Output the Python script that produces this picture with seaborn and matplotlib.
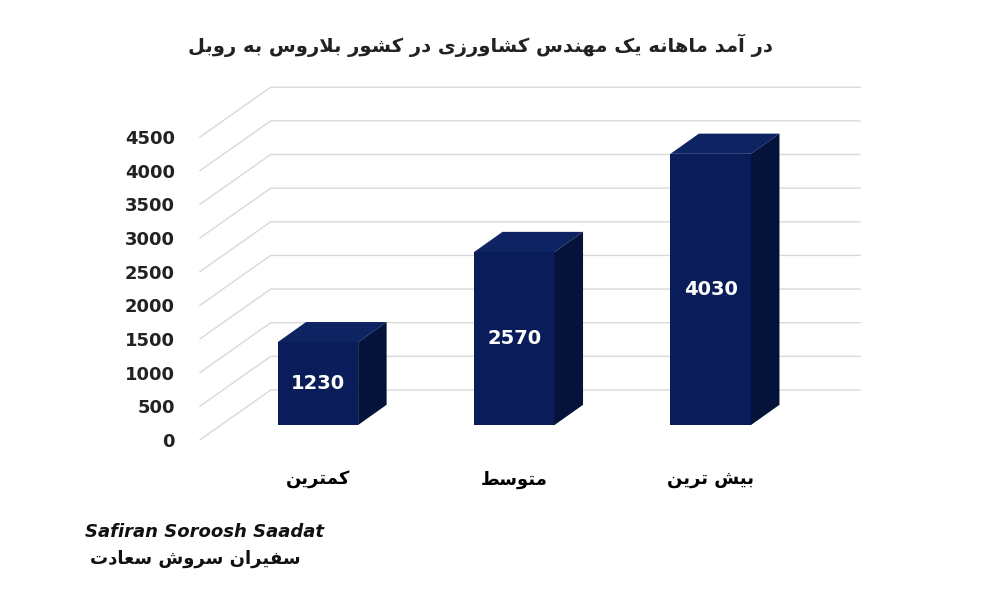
import matplotlib
matplotlib.use("Agg")
import matplotlib.pyplot as plt
import seaborn as sns
import pandas as pd
from matplotlib.patches import Polygon

# ---- simple Persian shaping (presentation forms) ----
FORMS = {  # isolated, final, initial, medial
    'ا': ('\uFE8D', '\uFE8E', None, None), 'آ': ('\uFE81', '\uFE82', None, None),
    'ب': ('\uFE8F', '\uFE90', '\uFE91', '\uFE92'), 'ت': ('\uFE95', '\uFE96', '\uFE97', '\uFE98'),
    'د': ('\uFEA9', '\uFEAA', None, None), 'ر': ('\uFEAD', '\uFEAE', None, None),
    'ز': ('\uFEAF', '\uFEB0', None, None), 'س': ('\uFEB1', '\uFEB2', '\uFEB3', '\uFEB4'),
    'ش': ('\uFEB5', '\uFEB6', '\uFEB7', '\uFEB8'), 'ط': ('\uFEC1', '\uFEC2', '\uFEC3', '\uFEC4'),
    'ع': ('\uFEC9', '\uFECA', '\uFECB', '\uFECC'), 'ف': ('\uFED1', '\uFED2', '\uFED3', '\uFED4'),
    'ل': ('\uFEDD', '\uFEDE', '\uFEDF', '\uFEE0'), 'م': ('\uFEE1', '\uFEE2', '\uFEE3', '\uFEE4'),
    'ن': ('\uFEE5', '\uFEE6', '\uFEE7', '\uFEE8'), 'ه': ('\uFEE9', '\uFEEA', '\uFEEB', '\uFEEC'),
    'و': ('\uFEED', '\uFEEE', None, None), 'ک': ('\uFB8E', '\uFB8F', '\uFB90', '\uFB91'),
    'ی': ('\uFBFC', '\uFBFD', '\uFBFE', '\uFBFF'),
    'لا': ('\uFEFB', '\uFEFC', None, None),
}

def shape(text):
    t = text.replace('لا', '\u0001')
    chars = ['لا' if c == '\u0001' else c for c in t]
    out = []
    for i, c in enumerate(chars):
        if c not in FORMS:
            out.append(c); continue
        prev = chars[i-1] if i > 0 else None
        nxt = chars[i+1] if i + 1 < len(chars) else None
        pj = prev in FORMS and FORMS[prev][2] is not None
        nj = nxt in FORMS and FORMS[c][2] is not None
        iso, fin, ini, med = FORMS[c]
        if pj and nj: out.append(med)
        elif pj: out.append(fin)
        elif nj: out.append(ini)
        else: out.append(iso)
    return ''.join(out)[::-1]

# ---- data ----
categories = ['کمترین', 'متوسط', 'بیش ترین']
values = [1230, 2570, 4030]
yticks = [0, 500, 1000, 1500, 2000, 2500, 3000, 3500, 4000, 4500]
title = 'در آمد ماهانه یک مهندس کشاورزی در کشور بلاروس به روبل'

df = pd.DataFrame({'cat': [shape(c) for c in categories], 'val': values})

fig = plt.figure(figsize=(10, 6), dpi=100)
ax = fig.add_axes([0.20, 0.267, 0.66, 0.60])
sns.barplot(data=df, x='cat', y='val', color='#0a1d5a', width=0.41,
            saturation=1, ax=ax, zorder=3)
ax.set_xlim(-0.6, 2.76)
ax.set_ylim(0, 5350)

# perspective grid
gdx, gdy = 0.36, 740
for v in yticks:
    ax.plot([-0.6, -0.6 + gdx, 2.76], [v, v + gdy, v + gdy], color='#d9d9d9', lw=1, zorder=1, clip_on=False)

# 3D bar faces (front face lifted slightly above floor edge)
base = 220
bdx, bdy = 0.145, 300
for p, v in zip(ax.patches, values):
    p.set_y(base)
    x0, w, h = p.get_x(), p.get_width(), p.get_height()
    t = base + h
    top = Polygon([(x0, t), (x0 + bdx, t + bdy), (x0 + w + bdx, t + bdy), (x0 + w, t)],
                  closed=True, fc='#0d2362', ec='none', zorder=3)
    side = Polygon([(x0 + w, base), (x0 + w, t), (x0 + w + bdx, t + bdy), (x0 + w + bdx, base + bdy)],
                   closed=True, fc='#05123a', ec='none', zorder=3)
    ax.add_patch(top); ax.add_patch(side)
    ax.text(x0 + w / 2, base + h / 2, str(v), ha='center', va='center', color='white',
            fontsize=14, fontweight='bold', zorder=4)

ax.set_yticks(yticks)
ax.set_yticklabels([str(t) for t in yticks], fontsize=13, fontweight='bold', color='#222222')
ax.tick_params(axis='y', length=0, pad=18)
ax.tick_params(axis='x', length=0, pad=22, labelsize=13)
for lbl in ax.get_xticklabels():
    lbl.set_fontweight('bold')
ax.set_xlabel(''); ax.set_ylabel('')
for s in ax.spines.values():
    s.set_visible(False)

fig.text(0.48, 0.925, shape(title), ha='center', va='center', fontsize=14, fontweight='bold', color='#222222')
fig.text(0.085, 0.105, 'Safiran Soroosh Saadat', fontsize=13, fontweight='bold', style='italic', color='#111111')
fig.text(0.09, 0.06, shape('سفیران سروش سعادت'), fontsize=13, fontweight='bold', color='#111111')

fig.savefig('out.png', dpi=100)
